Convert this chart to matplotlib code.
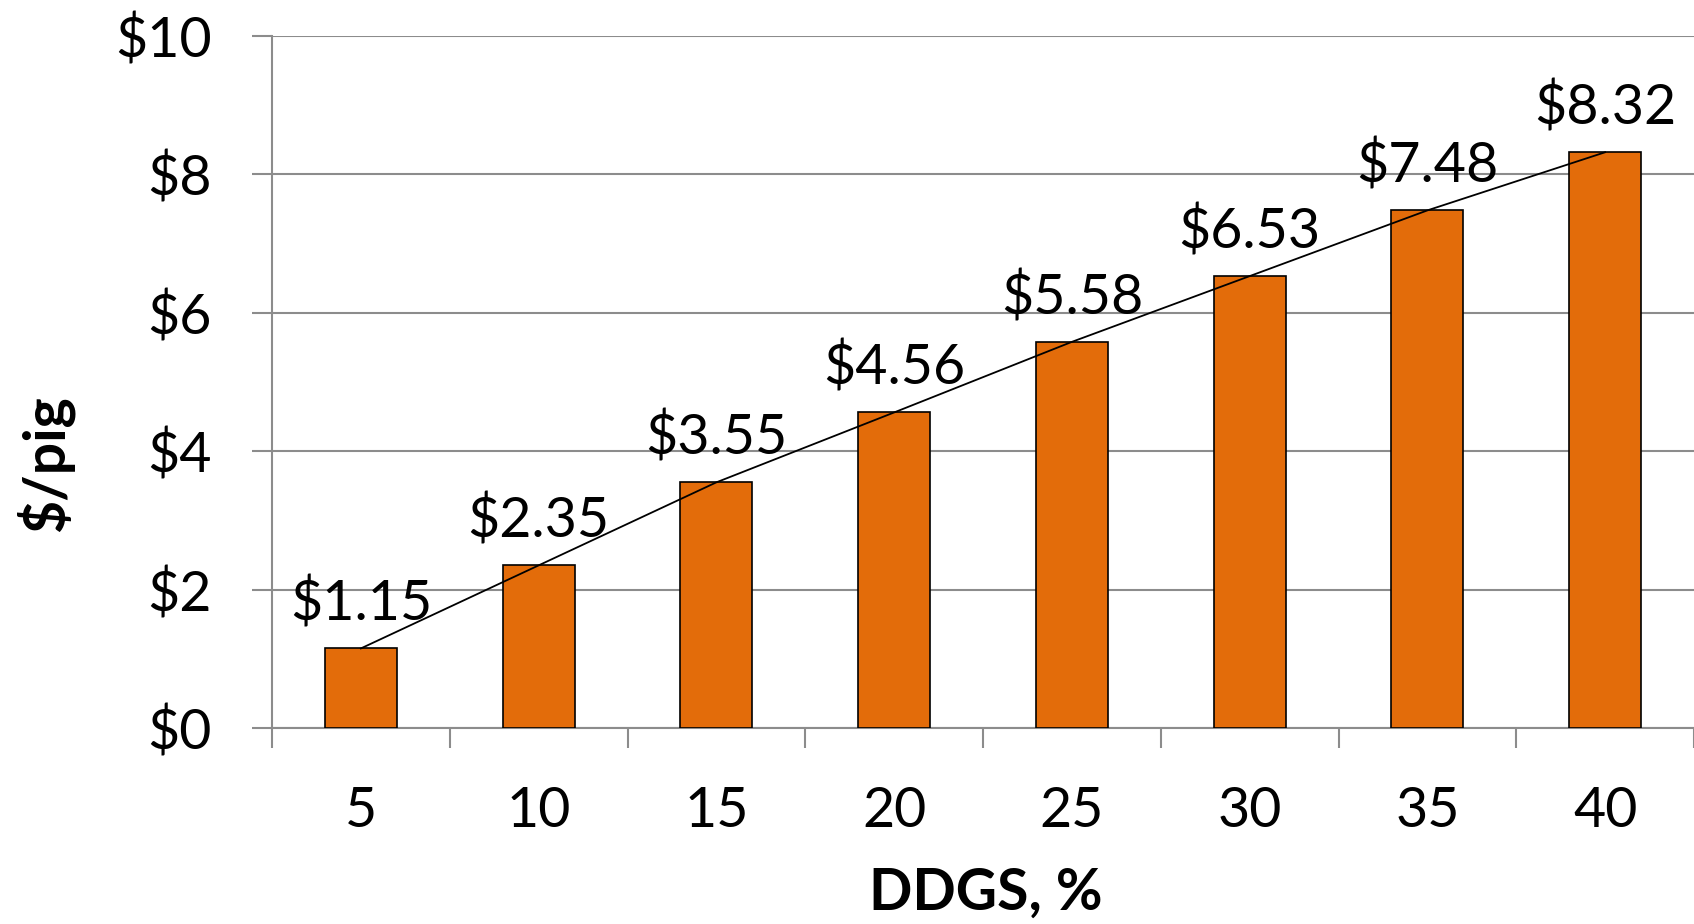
import matplotlib.pyplot as plt
from matplotlib.ticker import FixedLocator

plt.rcParams['font.family'] = ['Lato', 'DejaVu Sans']

# DDGS inclusion level and value per pig
ddgs_levels = ['5', '10', '15', '20', '25', '30', '35', '40']
value_per_pig = [1.15, 2.35, 3.55, 4.56, 5.58, 6.53, 7.48, 8.32]
y_ticks = [0, 2, 4, 6, 8, 10]

W, H = 1694, 924
fig = plt.figure(figsize=(W / 100, H / 100), dpi=100)
ax = fig.add_axes([272 / W, 1 - 728 / H, (W - 272) / W, (728 - 36) / H])

grey = '#8c8c8c'
x = list(range(len(ddgs_levels)))

# bars
ax.bar(x, value_per_pig, width=0.405, color='#E36C0A', edgecolor='black', linewidth=1.2, zorder=3)

# line through the bar tops
ax.plot(x, value_per_pig, color='black', linewidth=1.3, zorder=4)

# value labels
for xi, v in zip(x, value_per_pig):
    ax.annotate(f'${v:.2f}', (xi, v), xytext=(0, 20), textcoords='offset points',
                ha='center', va='baseline', fontsize=40, color='black', zorder=5)

ax.set_xlim(-0.5, len(ddgs_levels) - 0.5)
ax.set_ylim(0, 10)

# y axis
ax.set_yticks(y_ticks)
ax.set_yticklabels([f'${t}' for t in y_ticks])
ax.tick_params(axis='y', length=14.4, width=1.5, color=grey, pad=29, labelsize=40)
ax.yaxis.grid(True, color=grey, linewidth=1.5, zorder=0)

# x axis: tick marks between categories, labels at the centres
ax.xaxis.set_major_locator(FixedLocator([i - 0.5 for i in range(len(ddgs_levels) + 1)]))
ax.set_xticklabels([])
ax.xaxis.set_minor_locator(FixedLocator(x))
ax.set_xticklabels(ddgs_levels, minor=True)
ax.tick_params(axis='x', which='major', length=14.4, width=1.5, color=grey)
ax.tick_params(axis='x', which='minor', length=0, pad=42, labelsize=40)

for s in ['top', 'right']:
    ax.spines[s].set_visible(False)
for s in ['left', 'bottom']:
    ax.spines[s].set_color(grey)
    ax.spines[s].set_linewidth(1.5)
ax.set_axisbelow(True)

# axis titles
fig.text(45 / W, 1 - 464 / H, '$/pig', rotation=90, ha='center', va='center',
         fontsize=41, fontweight='bold')
fig.text(986 / W, 1 - 893 / H, 'DDGS, %', ha='center', va='center',
         fontsize=41, fontweight='bold')

plt.savefig('out.png', dpi=100)
